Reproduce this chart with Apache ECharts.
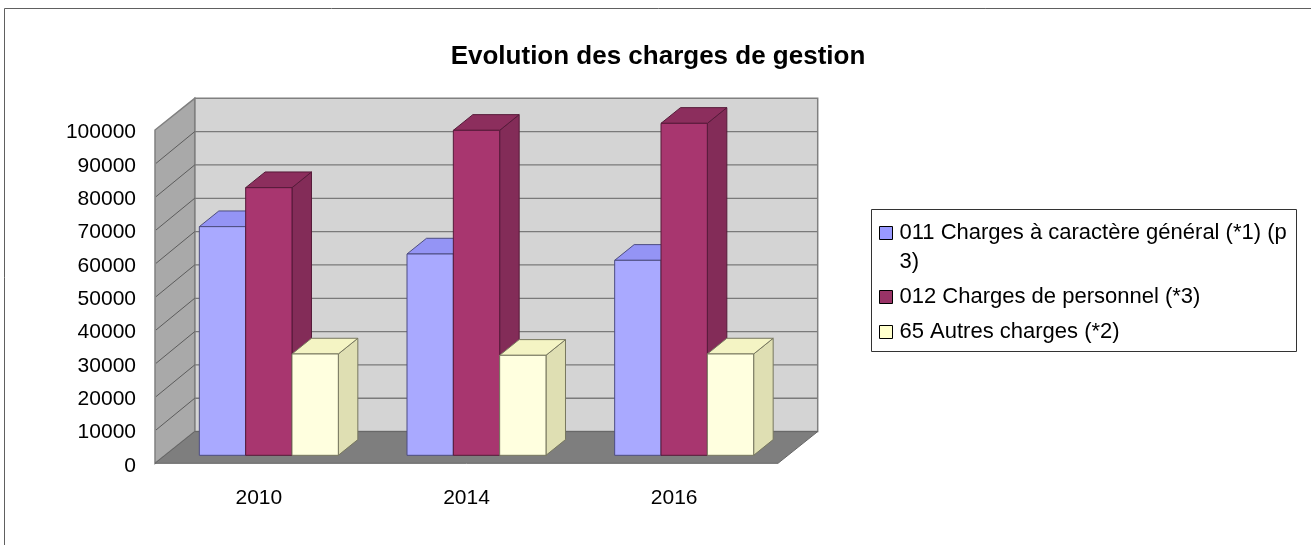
<!DOCTYPE html>
<html><head><meta charset="utf-8">
<style>html,body{margin:0;padding:0;background:#fff;overflow:hidden}#c{width:1311px;height:545px}</style>
<script src="https://cdn.jsdelivr.net/npm/echarts@6/dist/echarts.min.js"></script>
</head><body><div id="c"></div>
<script>
const categories = ['2010', '2014', '2016'];
const seriesNames = ['011 Charges à caractère général (*1) (p 3)', '012 Charges de personnel (*3)', '65 Autres charges (*2)'];
const charges011 = [68600, 60400, 58500];
const charges012 = [80300, 97500, 99600];
const charges65 = [30400, 30000, 30400];
const yTicks = [0, 10000, 20000, 30000, 40000, 50000, 60000, 70000, 80000, 90000, 100000];

const FONT = '"Liberation Sans", Arial, sans-serif';
const WALL_DX = 39.7, WALL_DY = -31.7;   // depth of the 3D box
const BAR_DX = 10, BAR_DY = -8;           // inset of bar front from box front
const BAR_DEPTH_DX = 19.5, BAR_DEPTH_DY = -15.7;
const BAR_FRACTION = 0.2231;

const palette = [
  {front:'#a9a9ff', top:'#9494f5', side:'#8f8fe6', line:'#4d4d80', legend:'#9999ff'},
  {front:'#a8366f', top:'#8c2e5d', side:'#832c58', line:'#561a39', legend:'#993366'},
  {front:'#ffffdf', top:'#f4f4c4', side:'#dfdfb3', line:'#77775f', legend:'#ffffcc'}
];

function barRenderer(k) {
  return function (params, api) {
    const idx = api.value(0), v = api.value(1);
    const band = api.size([1, 0])[0];
    const w = band * BAR_FRACTION;
    const b0 = api.coord([idx, 0]), t0 = api.coord([idx, v]);
    const x0 = b0[0] + BAR_DX + (k - 1.5) * w, x1 = x0 + w;
    const yb = b0[1] + BAR_DY, yt = t0[1] + BAR_DY;
    const dx = BAR_DEPTH_DX, dy = BAR_DEPTH_DY, c = palette[k];
    const lineStyle = {stroke: c.line, lineWidth: 1, lineJoin: 'round'};
    const poly = (pts, fill) => ({type: 'polygon', shape: {points: pts}, style: Object.assign({fill}, lineStyle)});
    return {type: 'group', children: [
      poly([[x1, yb], [x1 + dx, yb + dy], [x1 + dx, yt + dy], [x1, yt]], c.side),
      poly([[x0, yt], [x0 + dx, yt + dy], [x1 + dx, yt + dy], [x1, yt]], c.top),
      poly([[x0, yb], [x1, yb], [x1, yt], [x0, yt]], c.front)
    ]};
  };
}

function wallRenderer(params, api) {
  const band = api.size([1, 0])[0];
  const first = api.coord([0, 0]), last = api.coord([categories.length - 1, 0]);
  const left = first[0] - band / 2, right = last[0] + band / 2;
  const y0 = first[1], yTop = api.coord([0, 100000])[1];
  const dx = WALL_DX, dy = WALL_DY;
  const children = [
    {type: 'polygon', shape: {points: [[left + dx, yTop + dy], [right + dx, yTop + dy], [right + dx, y0 + dy], [left + dx, y0 + dy]]},
      style: {fill: '#d4d4d4', stroke: '#808080', lineWidth: 1.5}},
    {type: 'polygon', shape: {points: [[left, y0], [left + dx, y0 + dy], [left + dx, yTop + dy], [left, yTop]]},
      style: {fill: '#a9a9a9', stroke: '#808080', lineWidth: 1.5}},
    {type: 'polygon', shape: {points: [[left, y0], [right, y0], [right + dx, y0 + dy], [left + dx, y0 + dy]]},
      style: {fill: '#7e7e7e', stroke: '#666666', lineWidth: 1}}
  ];
  yTicks.slice(1, -1).forEach(t => {
    const py = api.coord([0, t])[1];
    children.push({type: 'line', shape: {x1: left + dx, y1: py + dy, x2: right + dx, y2: py + dy}, style: {stroke: '#7a7a7a', lineWidth: 1.3}});
    children.push({type: 'line', shape: {x1: left + 1, y1: py, x2: left + dx, y2: py + dy}, style: {stroke: '#5c5c5c', lineWidth: 1}});
  });
  return {type: 'group', children};
}

const seriesData = [charges011, charges012, charges65];
const chart = echarts.init(document.getElementById('c'), null, {renderer: 'canvas'});
chart.setOption({
  animation: false,
  backgroundColor: '#ffffff',
  title: {
    text: 'Evolution des charges de gestion', left: 653, top: 39, textAlign: 'center',
    textStyle: {fontFamily: FONT, fontWeight: 'bold', fontSize: 26, color: '#000'}
  },
  grid: {left: 155, top: 130, width: 623, height: 333.3, containLabel: false},
  xAxis: {
    type: 'category', data: categories,
    axisLine: {show: false}, axisTick: {show: false}, splitLine: {show: false},
    axisLabel: {fontFamily: FONT, fontSize: 21, color: '#000', margin: 24, interval: 0}
  },
  yAxis: {
    type: 'value', min: 0, max: 100000, interval: 10000,
    axisLine: {show: false}, axisTick: {show: false}, splitLine: {show: false},
    axisLabel: {fontFamily: FONT, fontSize: 21, color: '#000', margin: 19, verticalAlign: 'top', lineHeight: 5, formatter: v => String(v)}
  },
  legend: {
    left: 874, top: 184.5, orient: 'vertical', itemWidth: 13, itemHeight: 13, itemGap: 6,
    data: seriesNames.map((n, i) => ({name: n, icon: 'rect',
      itemStyle: {color: palette[i].legend, borderColor: '#000', borderWidth: 1}})),
    formatter: n => n === seriesNames[0] ? '\n011 Charges à caractère général (*1) (p\n3)' : n,
    textStyle: {fontFamily: FONT, fontSize: 22, color: '#000', lineHeight: 29, padding: [0, 0, 0, 2]},
    selectedMode: false
  },
  graphic: [
    {type: 'rect', z: 0, silent: true, shape: {x: 4.5, y: 8.5, width: 1400, height: 700}, style: {fill: 'none', stroke: '#606060', lineWidth: 1}},
    {type: 'rect', z: 0, silent: true, shape: {x: 871.5, y: 209.5, width: 425, height: 142}, style: {fill: '#fff', stroke: '#333333', lineWidth: 1}}
  ],
  series: [
    {type: 'custom', name: 'walls', silent: true, z: 1, coordinateSystem: 'cartesian2d', renderItem: wallRenderer,
      encode: {x: 0, y: 1}, data: [[0, 0]]}
  ].concat(seriesNames.map((n, k) => ({
    type: 'custom', name: n, z: 2 + k, coordinateSystem: 'cartesian2d', renderItem: barRenderer(k),
    encode: {x: 0, y: 1}, itemStyle: {color: palette[k].legend},
    data: categories.map((c, i) => [i, seriesData[k][i]])
  })))
});
</script></body></html>
